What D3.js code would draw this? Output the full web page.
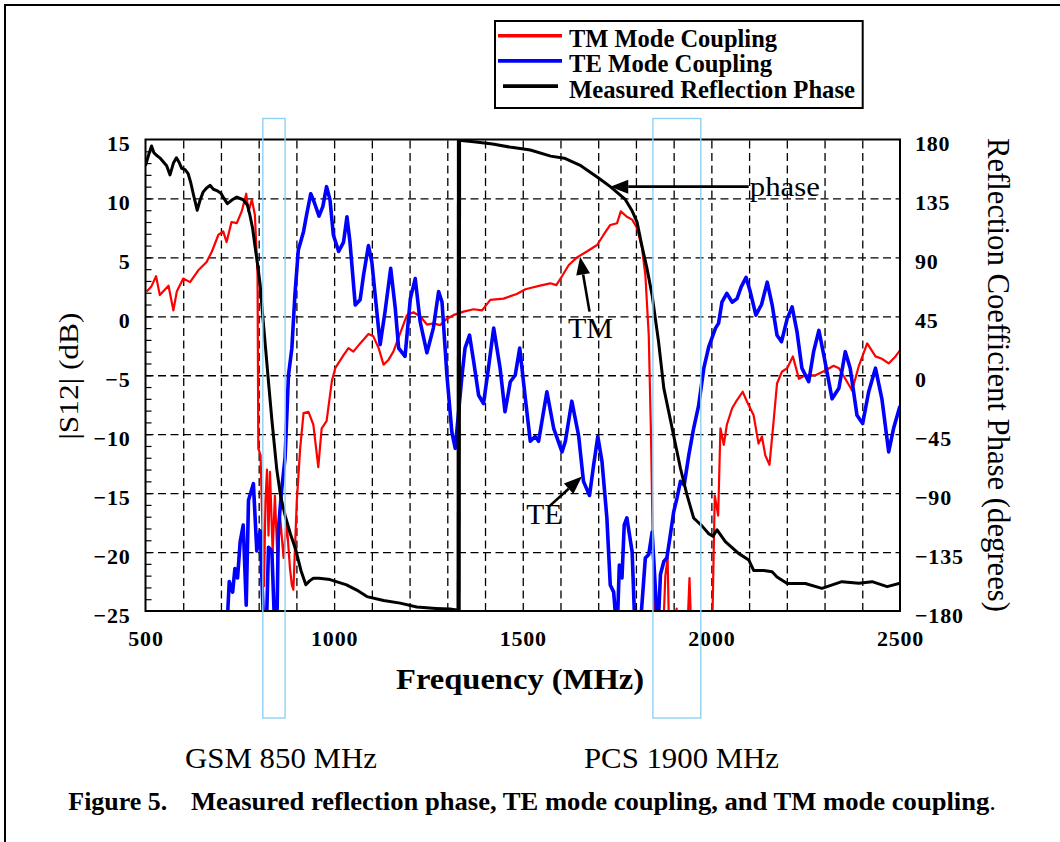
<!DOCTYPE html>
<html>
<head>
<meta charset="utf-8">
<script src="https://cdn.jsdelivr.net/npm/d3@7"></script>
<style>
  body { margin: 0; background: #fff; }
  svg { display: block; }
  text { font-family: "Liberation Serif", "Times New Roman", serif; fill: #000; }
</style>
</head>
<body>
<svg id="chart" width="1060" height="842"></svg>
<script>
// TM mode coupling |S12| (dB)
const tmFreq = [503, 515, 528, 538, 561, 574, 583, 600, 618, 640, 662, 676, 693, 706, 715, 728, 742, 755, 767, 773,
  782, 790, 797, 799, 805, 810, 814, 818, 822, 826, 830, 837, 843, 850, 857, 866, 874, 883, 888, 892,
  901, 910, 919, 932, 945, 958, 967, 980, 994, 1003, 1025, 1038, 1051, 1069, 1091, 1104, 1118, 1131, 1144, 1157,
  1175, 1193, 1210, 1228, 1246, 1263, 1281, 1299, 1316, 1343, 1370, 1392, 1414, 1449, 1484, 1507, 1520, 1546, 1573, 1589,
  1604, 1622, 1644, 1670, 1697, 1714, 1732, 1750, 1760, 1776, 1790, 1803, 1816, 1825, 1834, 1840, 1845, 1849, 1872, 1878,
  1884, 1888, 1905, 1908, 1912, 1936, 1942, 1947, 2002, 2009, 2018, 2024, 2033, 2041, 2055, 2068, 2083, 2094, 2112, 2125,
  2134, 2143, 2154, 2165, 2174, 2187, 2201, 2216, 2232, 2249, 2276, 2302, 2324, 2338, 2355, 2373, 2391, 2413, 2435, 2452,
  2470, 2488, 2500];
const tmDb = [2.1, 2.5, 3.4, 1.8, 2.6, 0.5, 2.1, 3.2, 2.9, 3.9, 4.6, 5.5, 6.9, 7.2, 6.3, 8.0, 7.9, 8.9, 10.4, 8.9,
  9.9, 8.6, 3.5, -11.2, -11.8, -18, -22.9, -15.7, -13, -18.6, -13.2, -20, -15.2, -20.8, -17.1, -20.5, -17.4, -21.4, -22.8, -23.2,
  -15.7, -11.2, -8.2, -8.1, -9.2, -12.8, -9.5, -8.9, -5.5, -4.4, -3.3, -2.7, -3.0, -2.3, -1.5, -1.7, -2.7, -4.1, -3.7, -3.0,
  -1.45, 0.1, 0.34, 0.0, -0.7, -0.6, -0.75, -0.2, 0.1, 0.4, 0.6, 0.5, 1.4, 1.5, 1.9, 2.3, 2.4, 2.6, 2.8, 2.65,
  3.4, 4.35, 5.0, 5.5, 6.05, 6.9, 7.75, 7.9, 8.9, 8.45, 8.2, 7.5, 5.8, 3.5, -1.6, -10.1, -20, -27, -27, -22,
  -20.5, -27, -27, -24.8, -27, -27, -22.2, -27, -27, -15.2, -16.9, -9.5, -10.9, -9.2, -7.8, -7.1, -6.4, -7.2, -8.4, -10.8,
  -10.2, -11.8, -12.6, -8.9, -5.7, -4.7, -4.4, -3.4, -5.3, -5.0, -5.0, -4.6, -4.2, -4.4, -5.3, -6.3, -4.2, -2.3, -3.4, -3.6,
  -4.0, -3.4, -2.9];

// TE mode coupling |S12| (dB)
const teFreq = [715, 722, 731, 737, 744, 751, 759, 767, 773, 786, 795, 804, 814, 820, 826, 835, 843, 848, 852, 861,
  870, 879, 888, 896, 905, 919, 927, 938, 947, 960, 970, 980, 989, 998, 1012, 1025, 1034, 1042, 1056, 1069,
  1078, 1091, 1100, 1122, 1135, 1150, 1162, 1171, 1188, 1202, 1215, 1228, 1246, 1263, 1277, 1286, 1299, 1312, 1321, 1330,
  1339, 1347, 1359, 1370, 1383, 1396, 1409, 1423, 1440, 1453, 1467, 1480, 1492, 1507, 1520, 1533, 1542, 1564, 1582, 1604,
  1613, 1630, 1648, 1661, 1677, 1688, 1699, 1710, 1723, 1732, 1741, 1750, 1756, 1763, 1769, 1776, 1790, 1798, 1810, 1825,
  1834, 1843, 1851, 1858, 1865, 1874, 1882, 1891, 1900, 1909, 1918, 1928, 1940, 1953, 1966, 1980, 1993, 2011, 2019, 2028,
  2041, 2055, 2068, 2079, 2092, 2103, 2118, 2133, 2148, 2161, 2174, 2186, 2201, 2214, 2227, 2240, 2258, 2271, 2285, 2298,
  2320, 2338, 2355, 2368, 2386, 2401, 2417, 2435, 2452, 2470, 2483, 2500];
const teDb = [-27, -22.5, -23.4, -21.4, -22.2, -19.1, -17.7, -24.5, -15.6, -14.2, -19.9, -18.2, -27, -27, -19.6, -19.9, -27, -27, -18.2, -14.7,
  -12, -5, -2.7, 1.8, 5.6, 7.2, 8.6, 10.4, 9.7, 8.5, 9.3, 11.0, 9.9, 6.9, 5.5, 6.3, 8.45, 6.3, 0.96, 1.4,
  3.5, 6.0, 4.6, -2.4, 0.4, 4.07, 0.7, -2.7, -3.4, 1.5, 3.2, -0.45, -3.1, -1.0, 2.1, 1.2, -5.0, -9.8, -11.2, -8.1,
  -5.0, -2.7, -1.6, -3.85, -6.7, -7.4, -4.4, -1.0, -4.4, -8.1, -5.55, -5.0, -2.7, -7.0, -10.6, -10.2, -10.6, -6.4, -9.5, -11.5,
  -10.6, -7.2, -10.1, -14.0, -15.2, -12.6, -10.2, -12.3, -17.1, -22.8, -23.4, -27, -21.1, -22.2, -17.7, -17.1, -20.0, -27, -27, -20.5,
  -20.2, -18.3, -22.8, -27, -21.9, -20.8, -20.5, -18.6, -16.6, -15.4, -14.0, -14.3, -11.8, -9.5, -7.6, -4.4, -2.6, -1.0, -0.6, 1.2,
  1.95, 1.2, 1.5, 2.5, 3.3, 2.1, 0.1, 1.0, 2.9, 1.0, -1.6, -2.15, -0.2, 0.8, -1.3, -4.4, -5.55, -3.0, -1.2, -3.3,
  -7.0, -6.1, -3.0, -4.4, -8.4, -9.1, -6.4, -4.4, -7.0, -11.5, -9.5, -7.6];

// measured reflection phase (degrees)
const phaseFreq = [500, 508, 516, 522, 529, 538, 547, 556, 565, 574, 582, 590, 596, 605, 613, 620, 627, 637, 645, 653,
  662, 671, 680, 689, 700, 708, 717, 730, 742, 759, 770, 777, 784, 790, 797, 804, 810, 817, 826, 835,
  848, 858, 870, 884, 898, 912, 925, 935, 945, 960, 989, 1033, 1060, 1087, 1131, 1175, 1219, 1270, 1307, 1330,
  1331, 1370, 1420, 1470, 1520, 1574, 1610, 1654, 1699, 1732, 1771, 1789, 1803, 1815, 1829, 1843, 1860, 1874, 1887, 1900,
  1918, 1935, 1953, 1975, 1993, 2004, 2015, 2037, 2072, 2099, 2112, 2139, 2161, 2174, 2201, 2249, 2293, 2346, 2391, 2426,
  2466, 2500];
const phaseDeg = [160, 168, 175, 170, 168, 166, 163, 160, 153, 162, 166, 162, 158, 157, 154, 147, 138, 126, 134, 140,
  143, 145, 142, 141, 139, 135, 131, 134, 136, 134, 130, 122, 112, 99, 85, 69, 48, 25, -5, -34,
  -72, -92, -107, -121, -133, -149, -160, -157, -155, -155, -156, -160, -164, -169, -172, -174, -177, -178, -178.5, -179.5,
  179.5, 178.3, 176.5, 174, 172, 167.3, 165.7, 160, 151, 144, 134.5, 126, 117, 100, 82, 61, 25.6, -10, -28, -46,
  -71, -91, -109, -115, -121, -123, -118, -127, -136, -141, -149, -149, -150, -154, -159, -159, -162.7, -157.6, -158.8, -157.6,
  -161.4, -158.8];

// frequency bands marked with boxes
const bandNames = ["GSM 850 MHz", "PCS 1900 MHz"];
const bandLo = [811, 1845];
const bandHi = [870, 1972];

const dbTicks = d3.range(-25, 16, 5);
const degTicks = d3.range(-180, 181, 45);
const freqTicks = d3.range(500, 2501, 500);

const svg = d3.select("#chart");
const L = 145.5, R = 900, T = 139.5, B = 611;

const x = d3.scaleLinear().domain([500, 2500]).range([L, R]);
const yL = d3.scaleLinear().domain([-25, 15]).range([B, T]);
const yR = d3.scaleLinear().domain([-180, 180]).range([B, T]);

svg.append("rect").attr("width", 1060).attr("height", 842).attr("fill", "#fff");
// page frame
svg.append("path").attr("d", "M5,850V5H1065").attr("fill", "none").attr("stroke", "#000").attr("stroke-width", 2);

svg.append("clipPath").attr("id", "plot").append("rect")
  .attr("x", L).attr("y", T).attr("width", R - L).attr("height", B - T);

// grid
const gx = svg.append("g").attr("transform", `translate(0,${B})`)
  .call(d3.axisBottom(x).tickValues(d3.range(600, 2500, 100)).tickSize(-(B - T)).tickFormat(""));
const gy = svg.append("g").attr("transform", `translate(${L},0)`)
  .call(d3.axisLeft(yL).tickValues(d3.range(-20, 15, 5)).tickSize(-(R - L)).tickFormat(""));
[gx, gy].forEach(g => {
  g.select(".domain").remove();
  g.selectAll("line").attr("stroke", "#000").attr("stroke-width", 1.3).attr("stroke-dasharray", "8,4.5");
});

// minor ticks on left axis
const gm = svg.append("g").attr("transform", `translate(${L},0)`)
  .call(d3.axisRight(yL).tickValues(d3.range(-24, 15, 1)).tickSize(6).tickFormat(""));
gm.select(".domain").remove();
gm.selectAll("line").attr("stroke", "#000").attr("stroke-width", 1.2);

const curves = svg.append("g").attr("clip-path", "url(#plot)");

const lineDb = (fr, vals) => d3.line().x((d, i) => x(fr[i])).y((d, i) => yL(vals[i]))(vals);
const lineDeg = d3.line().x((d, i) => x(phaseFreq[i])).y((d, i) => yR(phaseDeg[i]));

curves.append("path").attr("d", lineDb(tmFreq, tmDb))
  .attr("fill", "none").attr("stroke", "#ff0000").attr("stroke-width", 2.2).attr("stroke-linejoin", "round");
curves.append("path").attr("d", lineDb(teFreq, teDb))
  .attr("fill", "none").attr("stroke", "#0000ff").attr("stroke-width", 3.6).attr("stroke-linejoin", "round");
curves.append("path").attr("d", lineDeg(phaseDeg))
  .attr("fill", "none").attr("stroke", "#000").attr("stroke-width", 3).attr("stroke-linejoin", "round");

// phase wrap drawn heavier
const wrap = d3.range(1, phaseDeg.length).find(i => Math.abs(phaseDeg[i] - phaseDeg[i - 1]) > 180);
curves.append("line")
  .attr("x1", x(phaseFreq[wrap - 1])).attr("y1", yR(phaseDeg[wrap - 1]))
  .attr("x2", x(phaseFreq[wrap])).attr("y2", yR(phaseDeg[wrap]))
  .attr("stroke", "#000").attr("stroke-width", 4.2);

// plot frame
svg.append("rect").attr("x", L).attr("y", T).attr("width", R - L).attr("height", B - T)
  .attr("fill", "none").attr("stroke", "#000").attr("stroke-width", 2);

// axes labels
const styleTicks = g => {
  g.select(".domain").remove();
  g.selectAll("text").attr("font-family", "Liberation Serif").attr("font-size", 22)
    .attr("font-weight", "bold").attr("letter-spacing", 0.8).attr("fill", "#000");
};
svg.append("g").attr("transform", `translate(${L},0)`)
  .call(d3.axisLeft(yL).tickValues(dbTicks).tickSize(0).tickPadding(15).tickFormat(d3.format("d")))
  .call(styleTicks).selectAll("text").attr("dy", "0.5em");
svg.append("g").attr("transform", `translate(${R},0)`)
  .call(d3.axisRight(yR).tickValues(degTicks).tickSize(0).tickPadding(15).tickFormat(d3.format("d")))
  .call(styleTicks).selectAll("text").attr("dy", "0.5em");
svg.append("g").attr("transform", `translate(0,${B})`)
  .call(d3.axisBottom(x).tickValues(freqTicks).tickSize(0).tickPadding(19).tickFormat(d3.format("d")))
  .call(styleTicks);

// axis titles
svg.append("text").attr("x", 520).attr("y", 689).attr("text-anchor", "middle")
  .attr("font-size", 30).attr("font-weight", "bold")
  .attr("textLength", 248).attr("lengthAdjust", "spacingAndGlyphs").text("Frequency (MHz)");
svg.append("text").attr("transform", "translate(77.5,376) rotate(-90)").attr("text-anchor", "middle")
  .attr("font-size", 27).attr("textLength", 127).attr("lengthAdjust", "spacingAndGlyphs").text("|S12|  (dB)");
svg.append("text").attr("transform", "translate(988,375) rotate(90)").attr("text-anchor", "middle")
  .attr("font-size", 31).attr("textLength", 474).attr("lengthAdjust", "spacingAndGlyphs")
  .text("Reflection Coefficient Phase (degrees)");

// band boxes and labels
bandNames.forEach((name, i) => {
  svg.append("rect").attr("x", x(bandLo[i])).attr("y", 118.5)
    .attr("width", x(bandHi[i]) - x(bandLo[i])).attr("height", 599.5)
    .attr("fill", "none").attr("stroke", "#8ed2f4").attr("stroke-width", 1.4);
});
svg.append("text").attr("x", 281).attr("y", 768).attr("text-anchor", "middle").attr("font-size", 29)
  .attr("textLength", 192).attr("lengthAdjust", "spacingAndGlyphs").text(bandNames[0]);
svg.append("text").attr("x", 681.5).attr("y", 768).attr("text-anchor", "middle").attr("font-size", 29)
  .attr("textLength", 195).attr("lengthAdjust", "spacingAndGlyphs").text(bandNames[1]);

// caption
svg.append("text").attr("x", 68.3).attr("y", 810).attr("font-size", 25).attr("font-weight", "bold")
  .attr("textLength", 99).attr("lengthAdjust", "spacingAndGlyphs").text("Figure 5.");
const cap = svg.append("text").attr("x", 191).attr("y", 810).attr("font-size", 25)
  .attr("textLength", 805).attr("lengthAdjust", "spacingAndGlyphs");
cap.append("tspan").attr("font-weight", "bold").text("Measured reflection phase, TE mode coupling, and TM mode coupling");
cap.append("tspan").text(".");

// legend
const lg = svg.append("g");
lg.append("rect").attr("x", 495).attr("y", 21).attr("width", 367.7).attr("height", 87)
  .attr("fill", "#fff").attr("stroke", "#000").attr("stroke-width", 2);
const legNames = ["TM Mode Coupling", "TE Mode Coupling", "Measured Reflection Phase"];
const legColors = ["#ff0000", "#0000ff", "#000"];
const legLens = [208, 203, 286];
legNames.forEach((n, i) => {
  const yy = 35.7 + i * 25.2;
  lg.append("line").attr("x1", i == 2 ? 503 : 498).attr("x2", i == 2 ? 558 : 562)
    .attr("y1", yy).attr("y2", yy).attr("stroke", legColors[i]).attr("stroke-width", 3.6);
  lg.append("text").attr("x", 569).attr("y", yy + 11.5).attr("font-size", 25).attr("font-weight", "bold")
    .attr("textLength", legLens[i]).attr("lengthAdjust", "spacingAndGlyphs").text(n);
});

// annotations
const arrow = (x1, y1, x2, y2) => {
  const a = Math.atan2(y2 - y1, x2 - x1), len = 18, hw = 7;
  const bx = x2 - len * Math.cos(a), by = y2 - len * Math.sin(a);
  svg.append("line").attr("x1", x1).attr("y1", y1).attr("x2", bx).attr("y2", by)
    .attr("stroke", "#000").attr("stroke-width", 2.6);
  svg.append("path")
    .attr("d", `M${x2},${y2}L${bx - hw * Math.sin(a)},${by + hw * Math.cos(a)}L${bx + hw * Math.sin(a)},${by - hw * Math.cos(a)}Z`)
    .attr("fill", "#000");
};
arrow(x(2099), yR(144), x(1732), yR(144));
svg.append("text").attr("x", x(2102)).attr("y", yR(144) + 9).attr("font-size", 28)
  .attr("textLength", 70).attr("lengthAdjust", "spacingAndGlyphs").text("phase");
arrow(x(1677), yL(0.4), x(1652), yL(5.06));
svg.append("text").attr("x", x(1620)).attr("y", yL(0.4) + 26.5).attr("font-size", 30)
  .attr("textLength", 45).attr("lengthAdjust", "spacingAndGlyphs").text("TM");
arrow(x(1571), yL(-16.1), x(1657), yL(-13.6));
svg.append("text").attr("x", x(1565) - 21).attr("y", yL(-16.1) + 17.5).attr("font-size", 30)
  .attr("textLength", 36).attr("lengthAdjust", "spacingAndGlyphs").text("TE");
</script>
</body>
</html>
